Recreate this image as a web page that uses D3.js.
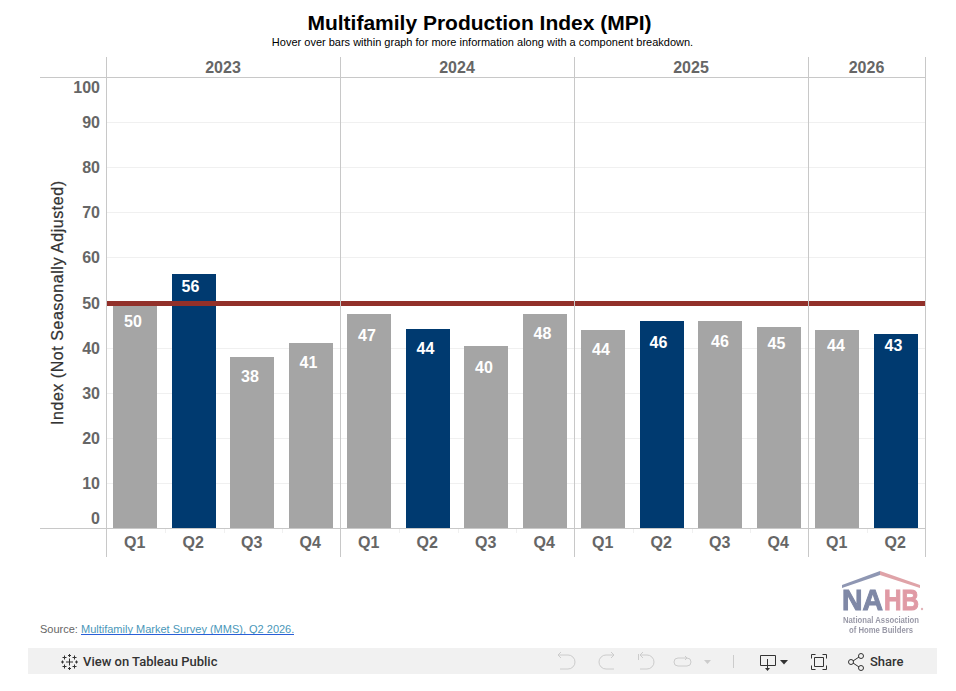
<!DOCTYPE html>
<html lang="en">
<head>
    <meta charset="utf-8" />
    <title>Multifamily Production Index (MPI)</title>
    <script src="https://d3js.org/d3.v7.min.js"></script>
    <style>
        body { margin: 0; background: #fff; font-family: "Liberation Sans", Arial, sans-serif; }
        svg { display: block; }
    </style>
</head>
<body>
    <div id="chart"></div>
    <script>
        // Values
        const years = ["2023", "2024", "2025", "2026"];
        const quarters = ["Q1", "Q2", "Q3", "Q4", "Q1", "Q2", "Q3", "Q4", "Q1", "Q2", "Q3", "Q4", "Q1", "Q2"];
        const barYears = ["2023", "2023", "2023", "2023", "2024", "2024", "2024", "2024", "2025", "2025", "2025", "2025", "2026", "2026"];
        const values = [49.6, 56.3, 37.9, 41, 47.5, 44.1, 40.4, 47.5, 43.9, 45.9, 45.9, 44.6, 43.9, 43];
        const labels = ["50", "56", "38", "41", "47", "44", "40", "48", "44", "46", "46", "45", "44", "43"];
        const yTicks = [0, 10, 20, 30, 40, 50, 60, 70, 80, 90, 100];
        const referenceValue = 50;

        const grey = "#a5a5a5", navy = "#003a70", red = "#92302a", rule = "#c8c8c8", textGrey = "#666666";

        const svg = d3.select("#chart").append("svg")
            .attr("width", 956)
            .attr("height", 691);

        // step comes out at 58.5 with the first bar at 113
        const x = d3.scaleBand()
            .domain(d3.range(quarters.length))
            .range([105.75, 924.75])
            .paddingInner(0.24786)
            .paddingOuter(0.12393);
        const y = d3.scaleLinear().domain([0, 100]).range([528, 77]);
        const paneWidth = 58.5;
        const paneLeft = i => 106.5 + i * paneWidth;

        // Title
        svg.append("text").attr("x", 479.5).attr("y", 30).attr("text-anchor", "middle")
            .style("font-size", "21px").style("font-weight", "bold").style("fill", "#000")
            .text("Multifamily Production Index (MPI)");
        svg.append("text").attr("x", 482.5).attr("y", 46).attr("text-anchor", "middle")
            .style("font-size", "11px").style("fill", "#000")
            .text("Hover over bars within graph for more information along with a component breakdown.");

        // Gridlines
        svg.append("g").selectAll("line")
            .data(yTicks.filter(d => d > 0 && d < 100))
            .join("line")
            .attr("x1", 107).attr("x2", 925)
            .attr("y1", d => Math.round(y(d)) + 0.5).attr("y2", d => Math.round(y(d)) + 0.5)
            .attr("stroke", "#f0f0f0");

        // Bars
        svg.append("g").selectAll("rect")
            .data(values)
            .join("rect")
            .attr("x", (d, i) => Math.round(x(i) + 0.01))
            .attr("width", 44)
            .attr("y", d => Math.round(y(d)))
            .attr("height", d => y(0) - Math.round(y(d)))
            .attr("fill", (d, i) => quarters[i] === "Q2" ? navy : grey);

        // Year panes
        const paneEdges = years.map(yr => paneLeft(barYears.indexOf(yr))).concat([925.5]);

        // Reference line
        svg.append("line")
            .attr("x1", 107).attr("x2", 925)
            .attr("y1", y(referenceValue) + 1).attr("y2", y(referenceValue) + 1)
            .attr("stroke", red).attr("stroke-width", 5);

        svg.append("g").selectAll("line")
            .data(paneEdges)
            .join("line")
            .attr("x1", d => d).attr("x2", d => d)
            .attr("y1", 57).attr("y2", 557)
            .attr("stroke", rule);

        svg.selectAll(".hrule")
            .data([y(100), y(0)])
            .join("line")
            .attr("class", "hrule")
            .attr("x1", 40).attr("x2", 925)
            .attr("y1", d => d + 0.5).attr("y2", d => d + 0.5)
            .attr("stroke", rule);

        // Small ticks between the quarters
        svg.append("g").selectAll("line")
            .data(d3.range(quarters.length).filter(i => barYears[i] === barYears[i - 1]))
            .join("line")
            .attr("x1", i => Math.round(paneLeft(i)) + 0.5).attr("x2", i => Math.round(paneLeft(i)) + 0.5)
            .attr("y1", 529).attr("y2", 533)
            .attr("stroke", "#f0f0f0");

        // Bar labels, Tableau nudges them around inside the bars
        const labelNudgeX = [-2, -3, -2, -2, -2, -2, -2, -2, -2, -3, 0, -2, -1, -2];
        const labelNudgeY = [17, 12.5, 19, 19, 21, 19, 21.5, 19, 19.5, 21.5, 20, 16, 15, 11];
        svg.append("g").selectAll("text")
            .data(values)
            .join("text")
            .attr("x", (d, i) => x(i) + x.bandwidth() / 2 + labelNudgeX[i])
            .attr("y", (d, i) => Math.round(y(d)) + labelNudgeY[i] + 5.5)
            .attr("text-anchor", "middle")
            .style("font-size", "16px").style("font-weight", "bold").style("fill", "#fff")
            .text((d, i) => labels[i]);

        // Year headers
        svg.append("g").selectAll("text")
            .data(years)
            .join("text")
            .attr("x", (d, i) => (paneEdges[i] + paneEdges[i + 1]) / 2 - 0.5)
            .attr("y", 72.5)
            .attr("text-anchor", "middle")
            .style("font-size", "16px").style("font-weight", "bold").style("fill", textGrey)
            .text(d => d);

        // Quarter labels
        svg.append("g").selectAll("text")
            .data(quarters)
            .join("text")
            .attr("x", (d, i) => paneLeft(i) + paneWidth / 2 - 1)
            .attr("y", 547.5)
            .attr("text-anchor", "middle")
            .style("font-size", "16px").style("font-weight", "bold").style("fill", textGrey)
            .text(d => d);

        // Y axis labels
        const yAxis = d3.axisLeft(y).tickValues(yTicks).tickSize(0).tickPadding(0);
        const yG = svg.append("g").attr("transform", "translate(100,0)").call(yAxis);
        yG.select(".domain").remove();
        yG.selectAll("text")
            .attr("dy", d => d === 100 ? "15.5px" : d === 0 ? "-4.5px" : "5.5px")
            .style("font-family", "'Liberation Sans', Arial, sans-serif")
            .style("font-size", "16px").style("font-weight", "bold").style("fill", textGrey);

        svg.append("text")
            .attr("transform", "translate(63,303) rotate(-90)")
            .attr("text-anchor", "middle")
            .attr("textLength", 244)
            .style("font-size", "16px").style("fill", "#333")
            .style("stroke", "#333").style("stroke-width", 0.25)
            .text("Index (Not Seasonally Adjusted)");

        // Source
        const source = svg.append("text").attr("x", 40).attr("y", 633)
            .style("font-size", "11px").style("fill", "#666");
        source.append("tspan").text("Source: ");
        source.append("tspan").style("fill", "#4a97b9")
            .text("Multifamily Market Survey (MMS), Q2 2026.");
        svg.append("line").attr("x1", 81).attr("x2", 294).attr("y1", 634.5).attr("y2", 634.5)
            .attr("stroke", "#2a5fd8");

        // NAHB logo
        svg.append("defs").append("filter").attr("id", "soft")
            .append("feGaussianBlur").attr("stdDeviation", 0.6);
        const logo = svg.append("g").attr("filter", "url(#soft)");
        logo.append("path").attr("d", "M842 585 L880 571 L880 575 L842 588 Z").attr("fill", "#8f97b3");
        logo.append("path").attr("d", "M880 571 L920 585 L920 588 L880 575 Z").attr("fill", "#dfa3a8");
        const logoBig = (txt, x0, len, color) => logo.append("text").attr("x", x0).attr("y", 610)
            .attr("textLength", len).attr("lengthAdjust", "spacingAndGlyphs")
            .style("font-size", "29px").style("font-weight", "bold")
            .style("fill", color).style("stroke", color).style("stroke-width", 1).text(txt);
        logoBig("NA", 842, 41, "#7f88a6");
        logoBig("HB", 884, 35, "#e09aa5");
        logo.append("circle").attr("cx", 922).attr("cy", 609).attr("r", 1.2).attr("fill", "#e3b5ba");
        const logoSmall = (txt, y0, len) => logo.append("text").attr("x", 881).attr("y", y0)
            .attr("text-anchor", "middle").attr("textLength", len).attr("lengthAdjust", "spacingAndGlyphs")
            .style("font-size", "9px").style("font-weight", "bold").style("fill", "#9a9aa8").text(txt);
        logoSmall("National Association", 623, 76);
        logoSmall("of Home Builders", 633, 64);

        // Toolbar
        const bar = svg.append("g");
        bar.append("rect").attr("x", 28).attr("y", 648).attr("width", 909).attr("height", 26).attr("fill", "#f1f1f1");
        bar.append("text").attr("x", 83).attr("y", 666)
            .style("font-family", "Roboto, sans-serif")
            .style("font-size", "13px").style("font-weight", "500").style("fill", "#333")
            .text("View on Tableau Public");
        bar.append("text").attr("x", 870).attr("y", 666)
            .style("font-family", "Roboto, sans-serif")
            .style("font-size", "13px").style("font-weight", "500").style("fill", "#333")
            .text("Share");

        const icon = (d, color) => bar.append("path").attr("d", d).attr("fill", "none")
            .attr("stroke", color).attr("stroke-width", 1);
        // Tableau mark, one plus per spot
        const plus = (cx, cy, r) => `M${cx} ${cy - r}v${2 * r}M${cx - r} ${cy}h${2 * r}`;
        icon([
            plus(69.5, 662, 3.5),
            plus(64.5, 657.5, 2), plus(74.5, 657.5, 2), plus(64.5, 666.5, 2), plus(74.5, 666.5, 2),
            plus(69.5, 655.5, 1.5), plus(69.5, 668.5, 1.5), plus(62.5, 662, 1.5), plus(76.5, 662, 1.5)
        ].join(""), "#333");
        // Undo, redo, revert, refresh
        icon("M558 655h10a7 7 0 0 1 0 14h-8M558 655l3-3M558 655l3 3", "#ccc");
        icon("M614 655h-8a7 7 0 0 0 0 14h8M614 655l-3-3M614 655l-3 3", "#ccc");
        icon("M638.5 654v6M640 655h7a7 7 0 0 1 0 14h-7M640 655l3-3M640 655l3 3", "#ccc");
        icon("M678 658h9a3.5 3.5 0 0 1 0 8h-9a3.5 3.5 0 0 1 0-8zM687 658l-2-2M687 658l-2 2", "#ccc");
        bar.append("path").attr("d", "M704 660h7l-3.5 4z").attr("fill", "#ccc");
        icon("M733.5 655v13", "#ccc");
        // Download
        icon("M760.5 655.5h15v10h-15zM767.5 659v10", "#333");
        bar.append("path").attr("d", "M765 668h5l-2.5 3z").attr("fill", "#333");
        bar.append("path").attr("d", "M780 660h8l-4 4.5z").attr("fill", "#333");
        // Fullscreen
        icon("M811.5 658.5v-4h4M822.5 654.5h4v4M826.5 665.5v4h-4M815.5 669.5h-4v-4M814.5 657.5h9v9h-9z", "#333");
        // Share
        icon("M853 661l6-4M853 663l6 4", "#333");
        bar.selectAll(".node").data([[851, 662], [861, 656], [861, 668]]).join("circle")
            .attr("class", "node").attr("cx", d => d[0]).attr("cy", d => d[1]).attr("r", 2.5)
            .attr("fill", "none").attr("stroke", "#333");
    </script>
</body>
</html>
